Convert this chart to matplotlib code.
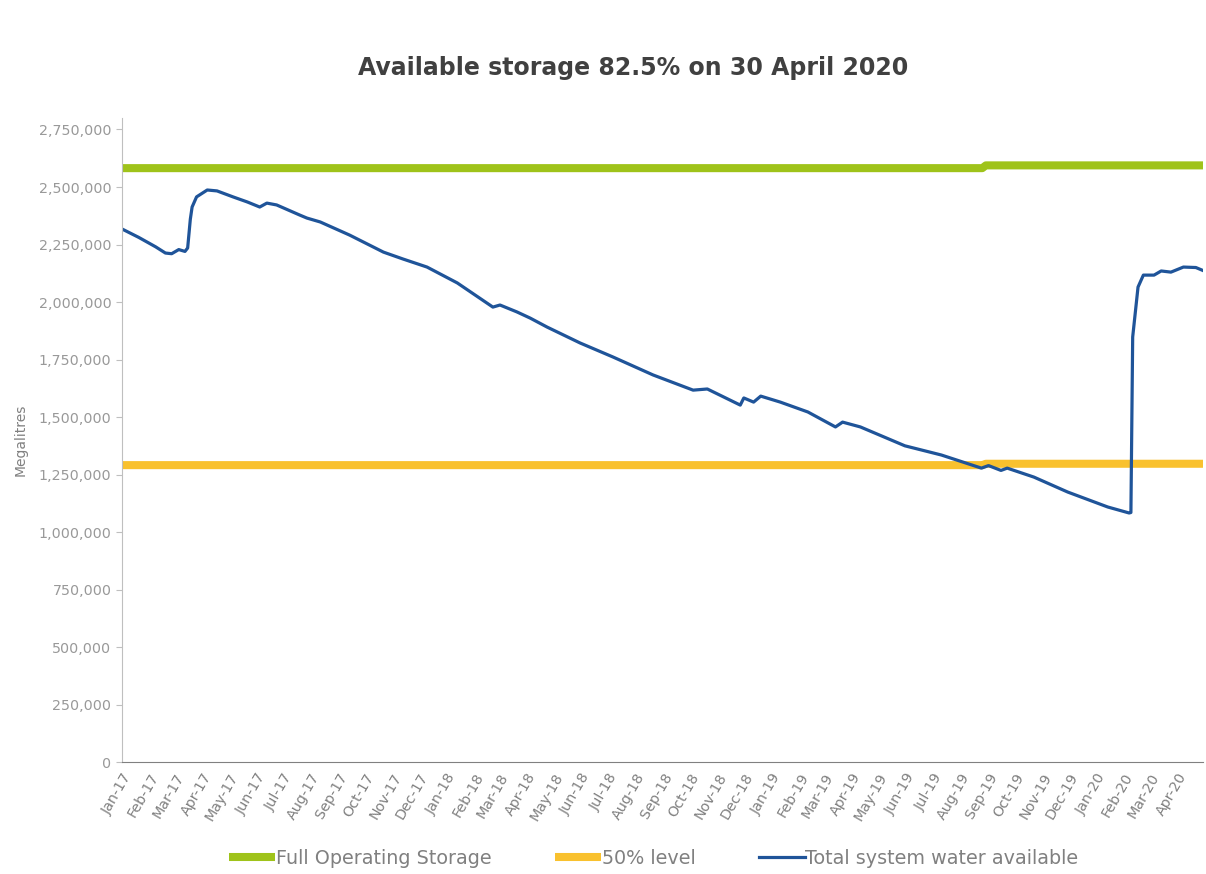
import matplotlib
matplotlib.use("Agg")
import matplotlib.pyplot as plt
import matplotlib.dates as mdates
import pandas as pd
from matplotlib.ticker import FuncFormatter

# total system water available (ML)
storage_dates = [
    "2017-01-01", "2017-01-20", "2017-02-08", "2017-02-19", "2017-02-26",
    "2017-03-06", "2017-03-13", "2017-03-16", "2017-03-19", "2017-03-21",
    "2017-03-26", "2017-04-07", "2017-04-18", "2017-05-06", "2017-05-22",
    "2017-06-05", "2017-06-13", "2017-06-24", "2017-07-20", "2017-07-28",
    "2017-08-12", "2017-09-14", "2017-10-22", "2017-11-13", "2017-12-10",
    "2018-01-13", "2018-02-22", "2018-03-02", "2018-03-21", "2018-04-05",
    "2018-04-24", "2018-05-31", "2018-07-07", "2018-08-21", "2018-10-05",
    "2018-10-21", "2018-11-27", "2018-12-01", "2018-12-12", "2018-12-20",
    "2019-01-11", "2019-02-11", "2019-03-14", "2019-03-22", "2019-04-11",
    "2019-05-31", "2019-07-11", "2019-08-25", "2019-09-02", "2019-09-16",
    "2019-09-23", "2019-10-23", "2019-11-30", "2020-01-14", "2020-02-07",
    "2020-02-09", "2020-02-11", "2020-02-17", "2020-02-23", "2020-03-06",
    "2020-03-14", "2020-03-25", "2020-04-08", "2020-04-22", "2020-04-30",
]
storage_ml = [
    2318000, 2281000, 2240000, 2213000, 2210000,
    2228000, 2220000, 2235000, 2360000, 2413000,
    2457000, 2487000, 2483000, 2457000, 2435000,
    2413000, 2430000, 2422000, 2378000, 2365000,
    2348000, 2291000, 2217000, 2187000, 2152000,
    2083000, 1978000, 1987000, 1957000, 1930000,
    1891000, 1822000, 1761000, 1683000, 1617000,
    1622000, 1552000, 1583000, 1565000, 1591000,
    1565000, 1522000, 1457000, 1478000, 1457000,
    1375000, 1335000, 1278000, 1289000, 1268000,
    1278000, 1239000, 1174000, 1109000, 1083000,
    1085000, 1848000, 2065000, 2117000, 2117000,
    2135000, 2130000, 2152000, 2150000, 2137000,
]

fos_dates = ["2017-01-01", "2019-08-26", "2019-08-30", "2020-04-30"]
fos_ml = [2582000, 2582000, 2594000, 2594000]
half_ml = [1291000, 1291000, 1297000, 1297000]

storage_dates = pd.to_datetime(storage_dates)
fos_dates = pd.to_datetime(fos_dates)

grey = "#808080"
plt.rcParams["font.family"] = ["DejaVu Sans"]

fig = plt.figure(figsize=(12.06, 8.74), dpi=100)
ax = fig.add_axes([0.101, 0.128, 0.8965, 0.737])

ax.plot(fos_dates, fos_ml, color="#9fc31a", lw=5.8, solid_capstyle="butt",
        label="Full Operating Storage")
ax.plot(fos_dates, half_ml, color="#f9c12e", lw=5.8, solid_capstyle="butt",
        label="50% level")
ax.plot(storage_dates, storage_ml, color="#1f5499", lw=2.3,
        label="Total system water available")

ax.set_xlim(pd.Timestamp("2017-01-01"), pd.Timestamp("2020-04-30"))
ax.set_ylim(0, 2800000)
ax.set_yticks(range(0, 2750001, 250000))
ax.yaxis.set_major_formatter(FuncFormatter(lambda v, p: f"{int(v):,}"))

# labels every month, tick marks every quarter
ax.xaxis.set_major_locator(mdates.MonthLocator())
ax.xaxis.set_major_formatter(mdates.DateFormatter("%b-%y"))
ax.xaxis.set_minor_locator(mdates.MonthLocator(bymonth=[1, 4, 7, 10]))
ax.tick_params(axis="x", which="major", length=0, pad=6, labelsize=10.3,
               labelcolor=grey, labelrotation=60)
ax.tick_params(axis="x", which="minor", length=4, color=grey)
ax.tick_params(axis="y", length=4, color="#bfbfbf", labelsize=10.3,
               labelcolor="#999999")
for lbl in ax.get_xticklabels():
    lbl.set_ha("right")
    lbl.set_rotation_mode("anchor")

for s in ["top", "right"]:
    ax.spines[s].set_visible(False)
ax.spines["left"].set_color("#bfbfbf")
ax.spines["bottom"].set_color(grey)

ax.set_ylabel("Megalitres", color=grey, fontsize=10, labelpad=8)
fig.text(0.525, 0.922, "Available storage 82.5% on 30 April 2020",
         ha="center", va="center", fontsize=17, fontweight="bold",
         color="#404040")

fig.legend(loc="center", bbox_to_anchor=(0.542, 0.018), ncol=3, frameon=False,
           fontsize=13.8, handlelength=2.4, handletextpad=0.05,
           columnspacing=3.3, labelcolor=grey)

fig.savefig("out.png", dpi=100)
